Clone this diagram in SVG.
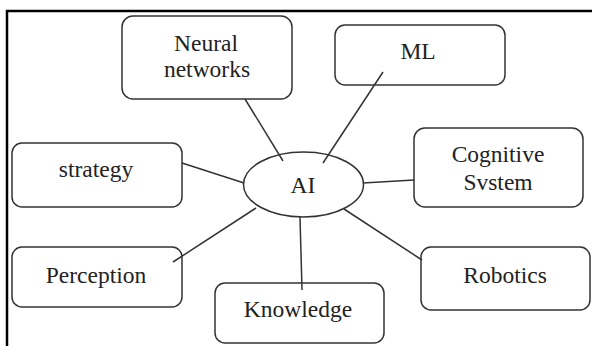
<svg xmlns="http://www.w3.org/2000/svg" width="592" height="346" viewBox="0 0 592 346">
  <style>
    .box { fill: #ffffff; stroke: #333333; stroke-width: 1.5; }
    .link { stroke: #333333; stroke-width: 1.5; fill: none; }
    .label { font-family: "Liberation Serif", "Times New Roman", serif; font-size: 23.5px; fill: #222222; text-anchor: middle; }
  </style>
  <rect width="592" height="346" fill="#ffffff"/>
  <!-- outer frame (top and left edges) -->
  <path d="M7 346 V11 H592" fill="none" stroke="#000000" stroke-width="2.5"/>

  <g id="ai">
    <ellipse class="box" cx="303.5" cy="184.5" rx="60" ry="32.5"/>
    <text class="label" x="303" y="193">AI</text>
  </g>

  <g id="neural-networks">
    <rect class="box" x="122" y="16" width="170" height="83" rx="11"/>
    <text class="label" x="206" y="51">Neural</text>
    <text class="label" x="207" y="77">networks</text>
  </g>

  <g id="ml">
    <rect class="box" x="335" y="25" width="170" height="60" rx="10"/>
    <text class="label" x="418" y="59">ML</text>
  </g>

  <g id="cognitive-system">
    <rect class="box" x="414" y="128" width="169" height="79" rx="11"/>
    <text class="label" x="498" y="162">Cognitive</text>
    <text class="label" x="498" y="190">Svstem</text>
  </g>

  <g id="strategy">
    <rect class="box" x="12" y="143" width="170" height="64" rx="10"/>
    <text class="label" x="96" y="177">strategy</text>
  </g>

  <g id="perception">
    <rect class="box" x="12" y="247" width="170" height="60" rx="10"/>
    <text class="label" x="96" y="283">Perception</text>
  </g>

  <g id="knowledge">
    <rect class="box" x="215" y="283" width="169" height="60" rx="10"/>
    <text class="label" x="298" y="317">Knowledge</text>
  </g>

  <g id="robotics">
    <rect class="box" x="421" y="247" width="169" height="63" rx="10"/>
    <text class="label" x="505" y="283">Robotics</text>
  </g>

  <!-- spokes drawn over the shapes so their ends run slightly inside -->
  <g id="connectors">
    <line class="link" x1="245" y1="99" x2="283" y2="161"/>
    <line class="link" x1="383" y1="72" x2="323" y2="163"/>
    <line class="link" x1="182" y1="163" x2="244" y2="183"/>
    <line class="link" x1="173" y1="262" x2="256" y2="208"/>
    <line class="link" x1="300" y1="217" x2="302" y2="290"/>
    <line class="link" x1="363" y1="183" x2="414" y2="180"/>
    <line class="link" x1="344" y1="209" x2="422" y2="260"/>
  </g>
</svg>
